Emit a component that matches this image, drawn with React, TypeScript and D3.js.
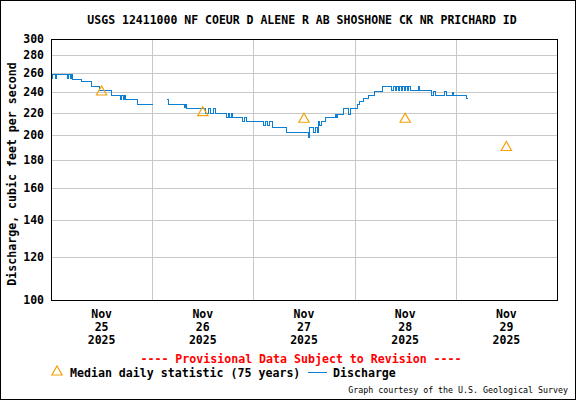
import React, { useEffect, useRef } from 'react';
import * as d3 from 'd3';

// 15-minute discharge readings (cfs); null marks the gap in the record
const discharge: [string, number | null][] = [
  ['11-25 00:00', 255], ['11-25 00:15', 259], ['11-25 01:00', 255], ['11-25 01:15', 259],
  ['11-25 03:45', 255], ['11-25 04:00', 259], ['11-25 04:30', 255], ['11-25 04:45', 259],
  ['11-25 05:00', 254], ['11-25 07:00', 251], ['11-25 09:30', 246], ['11-25 11:30', 242],
  ['11-25 14:15', 237], ['11-25 16:15', 233], ['11-25 16:30', 237], ['11-25 17:00', 233],
  ['11-25 17:15', 237], ['11-25 17:30', 233], ['11-25 20:30', 228], ['11-26 00:00', 228],
  ['11-26 00:15', null],
  ['11-26 03:15', 233], ['11-26 03:45', 228], ['11-26 07:30', 225], ['11-26 07:45', 228],
  ['11-26 08:00', 224], ['11-26 12:30', 220], ['11-26 13:15', 224], ['11-26 13:45', 220],
  ['11-26 14:30', 224], ['11-26 15:00', 220], ['11-26 17:30', 216], ['11-26 18:00', 220],
  ['11-26 18:15', 216], ['11-26 18:45', 220], ['11-26 19:00', 216], ['11-26 21:15', 212],
  ['11-26 21:45', 216], ['11-26 22:15', 212],
  ['11-27 02:15', 209], ['11-27 02:45', 212], ['11-27 03:15', 209], ['11-27 03:45', 212],
  ['11-27 04:30', 207], ['11-27 07:45', 203], ['11-27 13:00', 199], ['11-27 13:15', 207],
  ['11-27 14:15', 203], ['11-27 14:30', 207], ['11-27 15:00', 203], ['11-27 15:15', 212],
  ['11-27 15:30', 209], ['11-27 16:00', 212], ['11-27 17:00', 216], ['11-27 19:15', 219],
  ['11-27 19:30', 216], ['11-27 19:45', 219], ['11-27 21:15', 224], ['11-27 22:30', 219],
  ['11-27 23:00', 224],
  ['11-28 00:30', 228], ['11-28 01:00', 231], ['11-28 02:00', 234], ['11-28 03:15', 237],
  ['11-28 04:30', 241], ['11-28 06:30', 246], ['11-28 08:45', 242], ['11-28 09:00', 246],
  ['11-28 09:30', 242], ['11-28 09:45', 246], ['11-28 10:15', 242], ['11-28 10:30', 246],
  ['11-28 11:00', 242], ['11-28 11:15', 246], ['11-28 11:45', 242], ['11-28 12:00', 246],
  ['11-28 12:30', 242], ['11-28 12:45', 246], ['11-28 13:15', 242], ['11-28 15:00', 246],
  ['11-28 15:15', 242], ['11-28 18:00', 237], ['11-28 18:30', 241], ['11-28 19:00', 237],
  ['11-28 21:15', 241], ['11-28 21:45', 237], ['11-28 23:00', 240], ['11-28 23:15', 237],
  ['11-29 02:30', 234], ['11-29 02:45', 234]
];

// median daily statistic, plotted at noon of each day
const medianDays = ['11-25 12:00', '11-26 12:00', '11-27 12:00', '11-28 12:00', '11-29 12:00'];
const medianValues = [240, 220, 214, 214, 190];

const yTicks = [100, 120, 140, 160, 180, 200, 220, 240, 260, 280, 300];
const dayTicks = ['11-25 12:00', '11-26 12:00', '11-27 12:00', '11-28 12:00', '11-29 12:00'];
const dayLabels = [['Nov', '25', '2025'], ['Nov', '26', '2025'], ['Nov', '27', '2025'], ['Nov', '28', '2025'], ['Nov', '29', '2025']];
const dayBreaks = ['11-26 00:00', '11-27 00:00', '11-28 00:00', '11-29 00:00'];

const parse = d3.timeParse('%Y-%m-%d %H:%M');
const t = (s: string) => parse('2025-' + s) as Date;

const FONT = '"DejaVu Sans Mono", monospace';

const App: React.FC = () => {
  const svgRef = useRef<SVGSVGElement>(null);
  const width = 576;
  const height = 400;

  useEffect(() => {
    if (!svgRef.current) return;
    const svg = d3.select(svgRef.current);
    svg.selectAll('*').remove();

    const margin = { top: 39, right: 19, bottom: 100, left: 51 };
    const x = d3.scaleTime()
      .domain([t('11-25 00:00'), t('11-30 00:00')])
      .range([margin.left, width - margin.right]);
    const y = d3.scaleLog()
      .domain([100, 300])
      .range([height - margin.bottom, margin.top]);

    svg.append('rect')
      .attr('x', 0).attr('y', 0).attr('width', width).attr('height', height)
      .attr('fill', '#fff');

    // grid
    svg.append('g').selectAll('line')
      .data(yTicks.filter(v => v > 100 && v < 300))
      .enter().append('line')
      .attr('x1', margin.left).attr('x2', width - margin.right)
      .attr('y1', d => Math.round(y(d)) + 0.5).attr('y2', d => Math.round(y(d)) + 0.5)
      .attr('stroke', '#c8c8c8').attr('stroke-width', 1);
    svg.append('g').selectAll('line')
      .data(dayBreaks)
      .enter().append('line')
      .attr('x1', d => Math.round(x(t(d))) + 0.5).attr('x2', d => Math.round(x(t(d))) + 0.5)
      .attr('y1', margin.top).attr('y2', height - margin.bottom)
      .attr('stroke', '#c8c8c8').attr('stroke-width', 1);

    // discharge
    const line = d3.line<[string, number | null]>()
      .defined(d => d[1] !== null)
      .x(d => Math.round(x(t(d[0]))) + 0.5)
      .y(d => Math.round(y(d[1] as number)) + 0.5)
      .curve(d3.curveStepAfter);
    svg.append('path')
      .datum(discharge)
      .attr('d', line)
      .attr('fill', 'none')
      .attr('stroke', '#0a7fd4')
      .attr('stroke-width', 1)
      .attr('shape-rendering', 'crispEdges');

    // median triangles
    const tri = d3.symbol().type(d3.symbolTriangle).size(46);
    svg.append('g').selectAll('path')
      .data(medianDays)
      .enter().append('path')
      .attr('d', tri)
      .attr('transform', (d, i) => `translate(${x(t(d))},${y(medianValues[i])})`)
      .attr('fill', 'none')
      .attr('stroke', '#f5a10a')
      .attr('stroke-width', 1.2);

    // frame
    svg.append('rect')
      .attr('x', margin.left + 0.5).attr('y', margin.top + 0.5)
      .attr('width', width - margin.left - margin.right)
      .attr('height', height - margin.top - margin.bottom)
      .attr('fill', 'none').attr('stroke', '#000').attr('stroke-width', 1);

    // y tick labels
    svg.append('g').selectAll('text')
      .data(yTicks)
      .enter().append('text')
      .attr('x', 44)
      .attr('y', d => y(d) + 4)
      .attr('text-anchor', 'end')
      .attr('font-family', FONT).attr('font-size', '11.5px').attr('font-weight', 'bold')
      .attr('fill', '#000')
      .text(d => d);

    // x tick labels
    const xl = svg.append('g');
    dayTicks.forEach((d, i) => {
      dayLabels[i].forEach((s, j) => {
        xl.append('text')
          .attr('x', x(t(d)))
          .attr('y', 318 + j * 13)
          .attr('text-anchor', 'middle')
          .attr('font-family', FONT).attr('font-size', '11.5px').attr('font-weight', 'bold')
          .attr('fill', '#000')
          .text(s);
      });
    });

    // y axis title
    svg.append('text')
      .attr('transform', 'translate(16,174) rotate(-90)')
      .attr('text-anchor', 'middle')
      .attr('font-family', FONT).attr('font-size', '11.6px').attr('font-weight', 'bold')
      .attr('fill', '#000')
      .text('Discharge, cubic feet per second');

    // title
    svg.append('text')
      .attr('x', 302).attr('y', 24)
      .attr('text-anchor', 'middle')
      .attr('font-family', FONT).attr('font-size', '11.5px').attr('font-weight', 'bold')
      .attr('fill', '#000')
      .text('USGS 12411000 NF COEUR D ALENE R AB SHOSHONE CK NR PRICHARD ID');

    svg.append('text')
      .attr('x', 301).attr('y', 363)
      .attr('text-anchor', 'middle')
      .attr('font-family', FONT).attr('font-size', '11.6px').attr('font-weight', 'bold')
      .attr('fill', '#ff0000')
      .text('---- Provisional Data Subject to Revision ----');

    // legend
    const lg = svg.append('g');
    lg.append('path')
      .attr('d', tri)
      .attr('transform', 'translate(57,372)')
      .attr('fill', 'none').attr('stroke', '#f5a10a').attr('stroke-width', 1.2);
    lg.append('text')
      .attr('x', 70).attr('y', 377)
      .attr('font-family', FONT).attr('font-size', '11.6px').attr('font-weight', 'bold')
      .attr('fill', '#000')
      .text('Median daily statistic (75 years)');
    lg.append('line')
      .attr('x1', 308).attr('x2', 327).attr('y1', 372.5).attr('y2', 372.5)
      .attr('stroke', '#0a7fd4').attr('stroke-width', 1);
    lg.append('text')
      .attr('x', 333).attr('y', 377)
      .attr('font-family', FONT).attr('font-size', '11.6px').attr('font-weight', 'bold')
      .attr('fill', '#000')
      .text('Discharge');

    svg.append('text')
      .attr('x', 568).attr('y', 393)
      .attr('text-anchor', 'end')
      .attr('font-family', FONT).attr('font-size', '8.3px')
      .attr('fill', '#000')
      .text('Graph courtesy of the U.S. Geological Survey');

    // outer border
    svg.append('rect')
      .attr('x', 0.5).attr('y', 0.5).attr('width', width - 1).attr('height', height - 1)
      .attr('fill', 'none').attr('stroke', '#000').attr('stroke-width', 1);
  }, []);

  return (
    <svg
      ref={svgRef}
      width={width}
      height={height}
      style={{ position: 'absolute', left: 0, top: 0 }}
    />
  );
};

export default App;
